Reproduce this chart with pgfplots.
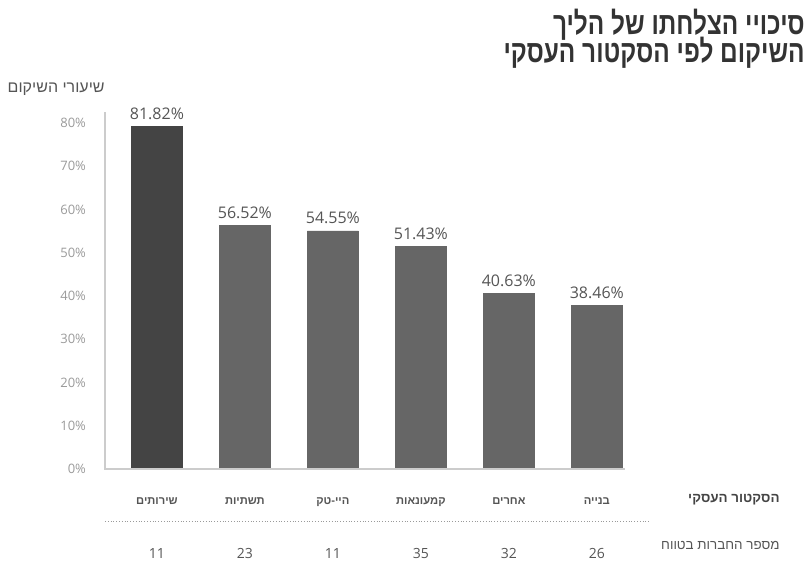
\documentclass[border=0pt]{standalone}
\usepackage{fontspec}
\usepackage{graphicx}
\usepackage{pgfplots}
\pgfplotsset{compat=1.18}
\setmainfont{Open Sans}
\newfontfamily\heb[Script=Hebrew]{Liberation Sans}
\TeXXeTstate=1
\definecolor{darkbar}{HTML}{444444}
\definecolor{midbar}{HTML}{666666}
\definecolor{ticktxt}{HTML}{9A9A9A}
\definecolor{lbltxt}{HTML}{555555}
\definecolor{titletxt}{HTML}{333333}
\definecolor{axisline}{HTML}{CCCCCC}

\begin{document}
\begin{tikzpicture}[x=0.5pt,y=0.5pt]

\begin{axis}[
    scale only axis, width=260pt, height=178.5pt,
    xmin=-0.59, xmax=5.32, ymin=0, ymax=82.5,
    axis x line=bottom, axis y line=left,
    axis line style={draw=none},
    ybar, bar width=25.5pt, bar shift=0pt,
    ytick={0,10,...,80},
    yticklabel={\pgfmathprintnumber{\tick}\%},
    yticklabel style={font=\fontsize{6.5}{8}\selectfont, text=ticktxt, xshift=-6pt},
    xtick={0,...,5},
    xticklabels={{\heb\bfseries\beginR שירותים\endR},{\heb\bfseries\beginR תשתיות\endR},{\heb\bfseries\beginR היי-טק\endR},{\heb\bfseries\beginR קמעונאות\endR},{\heb\bfseries\beginR אחרים\endR},{\heb\bfseries\beginR בנייה\endR}},
    xticklabel style={font=\fontsize{5.6}{7}\selectfont, text=lbltxt, yshift=-11pt},
    major tick length=0pt,
    tick style={draw=none},
    /pgf/number format/assume math mode=true,
    point meta=explicit symbolic,
    nodes near coords,
    nodes near coords style={font=\fontsize{8}{9}\selectfont, text=lbltxt, anchor=south},
    clip=false,
  ]
  % first sector, darker bar
  \addplot[fill=darkbar, draw=darkbar] coordinates {(0,79.1) [81.82\%]};
  % remaining sectors
  \addplot[fill=midbar, draw=midbar] coordinates {
    (1,56.3) [56.52\%]
    (2,55.0) [54.55\%]
    (3,51.4) [51.43\%]
    (4,40.6) [40.63\%]
    (5,37.7) [38.46\%]
  };
  % companies in sample
  \node[font=\fontsize{7}{8}\selectfont, text=lbltxt] at ([yshift=-42pt]axis cs:0,0) {11};
  \node[font=\fontsize{7}{8}\selectfont, text=lbltxt] at ([yshift=-42pt]axis cs:1,0) {23};
  \node[font=\fontsize{7}{8}\selectfont, text=lbltxt] at ([yshift=-42pt]axis cs:2,0) {11};
  \node[font=\fontsize{7}{8}\selectfont, text=lbltxt] at ([yshift=-42pt]axis cs:3,0) {35};
  \node[font=\fontsize{7}{8}\selectfont, text=lbltxt] at ([yshift=-42pt]axis cs:4,0) {32};
  \node[font=\fontsize{7}{8}\selectfont, text=lbltxt] at ([yshift=-42pt]axis cs:5,0) {26};
  \coordinate (O) at (axis cs:-0.59,0);
\end{axis}

% page frame in pixels, the axis corner sits at (105,94)
\begin{scope}[shift={(O)}]
\begin{scope}[shift={(-105,-94)}]
\pgfresetboundingbox
\path[use as bounding box] (0,0) rectangle (807,563);
\draw[draw=axisline, line width=0.6pt] (105,451) -- (105,94) -- (625,94);
\node[anchor=base east, inner sep=0, text=titletxt, font=\heb\bfseries\fontsize{12.2}{14}\selectfont] at (805,528) {\scalebox{1}[1.28]{\beginR סיכויי הצלחתו של הליך\endR}};
\node[anchor=base east, inner sep=0, text=titletxt, font=\heb\bfseries\fontsize{12.2}{14}\selectfont] at (805,500) {\scalebox{1}[1.28]{\beginR השיקום לפי הסקטור העסקי\endR}};
\node[anchor=base east, inner sep=0, text=lbltxt, font=\heb\fontsize{8}{9}\selectfont] at (105,471) {\beginR שיעורי השיקום\endR};
\node[anchor=east, inner sep=0, text=darkbar, font=\heb\bfseries\fontsize{6.7}{8}\selectfont] at (780,63) {\beginR הסקטור העסקי\endR};
\node[anchor=east, inner sep=0, text=lbltxt, font=\heb\fontsize{6.7}{8}\selectfont] at (780,18) {\beginR מספר החברות בטווח\endR};
\draw[densely dotted, draw=ticktxt, line width=0.4pt] (105,42) -- (650,42);
\end{scope}
\end{scope}
\end{tikzpicture}
\end{document}
